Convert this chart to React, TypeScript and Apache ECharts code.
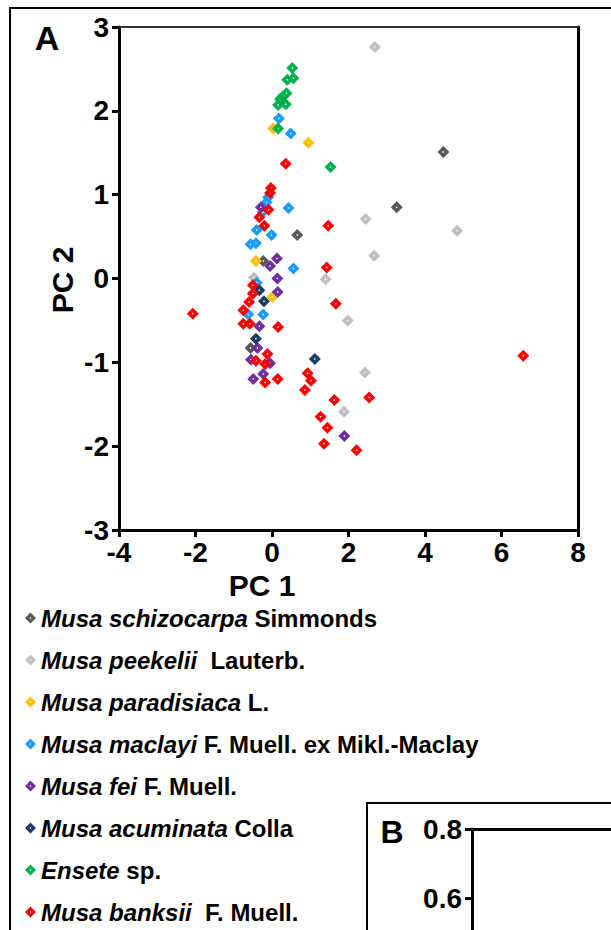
import React, { useEffect, useRef } from "react";
import * as echarts from "echarts";

const FONT = '"Liberation Sans", Arial, Helvetica, sans-serif';

const italicNames = [
  "Musa schizocarpa",
  "Musa peekelii",
  "Musa paradisiaca",
  "Musa maclayi",
  "Musa fei",
  "Musa acuminata",
  "Ensete",
  "Musa banksii",
];
const authorities = [
  "Simmonds",
  " Lauterb.",
  "L.",
  "F. Muell. ex Mikl.-Maclay",
  "F. Muell.",
  "Colla",
  "sp.",
  " F. Muell.",
];
const colors = ["#595959", "#bfbfbf", "#ffc000", "#1a9bff", "#7030a0", "#1f3a63", "#00b050", "#ff0000"];

const xTicks = { min: -4, max: 8, step: 2 };
const yTicks = { min: -3, max: 3, step: 1 };
const bTicks = { min: 0.4, max: 0.8, step: 0.2 };

const schizocarpa = [[-0.23, 0.21], [0.66, 0.52], [4.48, 1.51], [3.26, 0.85], [-0.56, -0.83]];
const peekelii = [[2.69, 2.76], [2.45, 0.71], [4.84, 0.57], [2.67, 0.27], [1.4, -0.01], [-0.47, 0.01], [1.98, -0.5], [2.43, -1.12], [1.88, -1.59]];
const paradisiaca = [[0.03, 1.79], [0.95, 1.62], [-0.42, 0.21], [0.01, -0.22]];
const maclayi = [[0.18, 1.91], [0.49, 1.73], [-0.1, 0.97], [-0.14, 0.91], [0.43, 0.84], [-0.24, 0.79], [-0.4, 0.58], [-0.01, 0.52], [-0.56, 0.41], [-0.42, 0.42], [0.56, 0.12], [-0.4, -0.05], [-0.62, -0.43], [-0.23, -0.43]];
const fei = [[-0.29, 0.85], [0.13, 0.24], [-0.05, 0.15], [0.14, 0.0], [0.15, -0.16], [-0.33, -0.57], [-0.38, -0.83], [-0.55, -0.97], [-0.05, -1.01], [-0.49, -1.2], [-0.23, -1.14], [1.89, -1.88]];
const acuminata = [[-0.33, -0.14], [-0.21, -0.27], [-0.42, -0.72], [1.12, -0.96]];
const ensete = [[0.53, 2.51], [0.56, 2.39], [0.4, 2.37], [0.38, 2.21], [0.28, 2.17], [0.21, 2.14], [0.36, 2.08], [0.16, 2.07], [0.16, 1.79], [1.53, 1.33]];
const banksii = [
  [0.36, 1.37], [-0.03, 1.08], [-0.05, 1.02], [-0.09, 0.82], [-0.33, 0.73], [-0.2, 0.63], [1.47, 0.63], [1.43, 0.13],
  [-0.5, -0.08], [-0.5, -0.18], [-0.6, -0.28], [-0.75, -0.38], [-2.07, -0.42], [-0.75, -0.54], [-0.58, -0.54], [0.16, -0.58],
  [1.67, -0.3], [-0.12, -0.9], [-0.42, -0.98], [-0.18, -1.02], [-0.18, -1.24], [0.15, -1.2], [0.93, -1.13], [1.02, -1.22],
  [0.86, -1.33], [1.63, -1.45], [2.54, -1.42], [1.27, -1.65], [1.45, -1.78], [1.36, -1.97], [2.21, -2.05], [6.57, -0.92],
];
const seriesData = [schizocarpa, peekelii, paradisiaca, maclayi, fei, acuminata, ensete, banksii];

const MARKER = "path://M0,-6L6,0L0,6L-6,0Z M0,-1L-1,0L0,1L1,0Z";

export default function App() {
  const ref = useRef<HTMLDivElement>(null);
  useEffect(() => {
    const chart = echarts.init(ref.current!, null, { renderer: "svg" });
    const names = italicNames.map((n, i) => n + " " + authorities[i]);
    const lookup: Record<string, number> = {};
    names.forEach((n, i) => (lookup[n] = i));
    const labelStyle = { fontSize: 28, fontWeight: "bold", color: "#000", fontFamily: FONT };
    const option: any = {
      animation: false,
      backgroundColor: "#fff",
      grid: [
        { left: 119, top: 27, width: 459, height: 503, outerBoundsMode: "none", containLabel: false },
        { left: 472, top: 829, width: 220, height: 138, outerBoundsMode: "none", containLabel: false },
      ],
      xAxis: [
        {
          gridIndex: 0, type: "value", min: xTicks.min, max: xTicks.max, interval: xTicks.step, position: "bottom",
          axisLine: { show: true, onZero: false, lineStyle: { color: "#000", width: 3 } },
          axisTick: { show: true, length: 7, lineStyle: { color: "#000", width: 3 } },
          axisLabel: { ...labelStyle, margin: 8 },
          splitLine: { show: false },
        },
        {
          gridIndex: 0, type: "value", min: xTicks.min, max: xTicks.max, position: "top",
          axisLine: { show: true, onZero: false, lineStyle: { color: "#333", width: 2 } },
          axisTick: { show: false }, axisLabel: { show: false }, splitLine: { show: false },
        },
        {
          gridIndex: 1, type: "value", min: 0, max: 1, position: "top",
          axisLine: { show: true, onZero: false, lineStyle: { color: "#000", width: 3 } },
          axisTick: { show: false }, axisLabel: { show: false }, splitLine: { show: false },
        },
      ],
      yAxis: [
        {
          gridIndex: 0, type: "value", min: yTicks.min, max: yTicks.max, interval: yTicks.step, position: "left",
          axisLine: { show: true, onZero: false, lineStyle: { color: "#000", width: 3 } },
          axisTick: { show: true, length: 7, lineStyle: { color: "#000", width: 3 } },
          axisLabel: { ...labelStyle, margin: 10 },
          splitLine: { show: false },
        },
        {
          gridIndex: 0, type: "value", min: yTicks.min, max: yTicks.max, position: "right",
          axisLine: { show: true, onZero: false, lineStyle: { color: "#000", width: 3 } },
          axisTick: { show: false }, axisLabel: { show: false }, splitLine: { show: false },
        },
        {
          gridIndex: 1, type: "value", min: bTicks.min, max: bTicks.max, interval: bTicks.step, position: "left",
          axisLine: { show: true, onZero: false, lineStyle: { color: "#000", width: 3 } },
          axisTick: { show: true, length: 7, lineStyle: { color: "#000", width: 3 } },
          axisLabel: { ...labelStyle, fontSize: 28, margin: 10, showMinLabel: false, formatter: (v: number) => v.toFixed(1) },
          splitLine: { show: false },
        },
      ],
      legend: {
        orient: "vertical",
        left: 25,
        top: 606,
        padding: 0,
        height: 324,
        itemWidth: 11,
        itemHeight: 11,
        itemGap: 18,
        selectedMode: false,
        data: names,
        formatter: (name: string) => {
          const i = lookup[name];
          return "{i|" + italicNames[i] + "}{n| " + authorities[i] + "}";
        },
        textStyle: {
          rich: {
            i: { fontStyle: "italic", fontWeight: "bold", fontSize: 24, fontFamily: FONT, color: "#000", lineHeight: 24 },
            n: { fontWeight: "bold", fontSize: 24, fontFamily: FONT, color: "#000", lineHeight: 24 },
          },
        },
      },
      series: seriesData.map((d, i) => ({
        name: names[i],
        type: "scatter",
        xAxisIndex: 0,
        yAxisIndex: 0,
        symbol: MARKER,
        symbolSize: 12,
        itemStyle: { color: colors[i], opacity: 1 },
        data: d,
      })),
      graphic: [
        { type: "rect", shape: { x: 10, y: 8, width: 700, height: 1000 }, style: { fill: "none", stroke: "#000", lineWidth: 2 } },
        { type: "rect", shape: { x: 367, y: 803, width: 400, height: 300 }, style: { fill: "#fff", stroke: "#000", lineWidth: 2 }, z: -1 },
        { type: "text", x: 47, y: 38, style: { text: "A", fontSize: 34, fontWeight: "bold", fontFamily: FONT, fill: "#000", align: "center", verticalAlign: "middle" } },
        { type: "text", x: 392, y: 832, style: { text: "B", fontSize: 32, fontWeight: "bold", fontFamily: FONT, fill: "#000", align: "center", verticalAlign: "middle" } },
        { type: "text", x: 262, y: 585, style: { text: "PC 1", fontSize: 30, fontWeight: "bold", fontFamily: FONT, fill: "#000", align: "center", verticalAlign: "middle" } },
        { type: "text", x: 62, y: 280, rotation: Math.PI / 2, style: { text: "PC 2", fontSize: 30, fontWeight: "bold", fontFamily: FONT, fill: "#000", align: "center", verticalAlign: "middle" } },
      ],
    };
    chart.setOption(option);
    return () => chart.dispose();
  }, []);
  return <div ref={ref} style={{ position: "fixed", left: 0, top: 0, width: 611, height: 930, background: "#fff" }} />;
}
